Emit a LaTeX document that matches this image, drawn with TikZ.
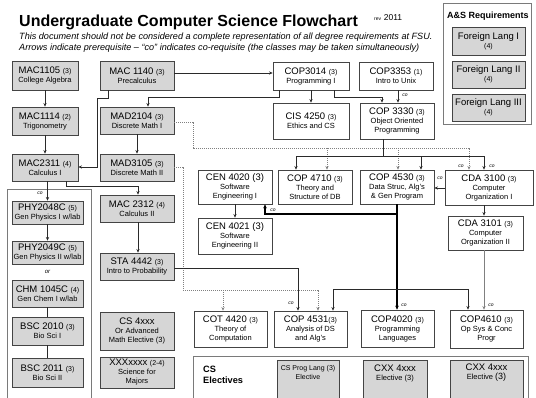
\documentclass[tikz,border=0pt]{standalone}
\usepackage{fontspec}
\setmainfont{Liberation Sans}
\usetikzlibrary{arrows.meta}
\definecolor{boxgray}{HTML}{D6D6D6}
\definecolor{boxline}{HTML}{444444}
\definecolor{grpline}{HTML}{7A7A7A}
\definecolor{linec}{HTML}{2A2A2A}
\definecolor{dotc}{HTML}{808080}
\newcommand\cn[2]{{\fontsize{9.5}{10}\selectfont #1 {\fontsize{7}{7}\selectfont #2}}}
\newcommand\cnb[1]{{\fontsize{9.5}{10}\selectfont #1}}
\begin{document}
\begin{tikzpicture}[x=1pt,y=-1pt,
  sz/.style n args={2}{minimum width=#1pt, minimum height=#2pt},
  basebox/.style={draw=boxline, line width=0.7pt, inner sep=0pt, align=center, font=\fontsize{7.5}{9}\selectfont},
  gbox/.style={basebox, fill=boxgray},
  wbox/.style={basebox, fill=white},
  grp/.style={draw=grpline, line width=0.7pt, fill=white, inner sep=0pt},
  txt/.style={inner sep=0pt, align=center, font=\fontsize{7.5}{9}\selectfont},
  arr/.style={draw=linec, line width=0.6pt, -{Stealth[length=3.6pt,width=3.2pt]}},
  ln/.style={draw=linec, line width=0.6pt},
  garr/.style={draw=dotc, line width=0.6pt, -{Stealth[length=3.6pt,width=3.2pt]}},
  dot/.style={draw=dotc, line width=0.6pt, dash pattern=on 1pt off 1pt, -{Stealth[length=3.6pt,width=3.2pt]}},
  thk/.style={draw=black, line width=1.3pt, -{Stealth[length=4pt,width=3.6pt]}},
  colab/.style={inner sep=0pt, font=\itshape\fontsize{5}{5}\selectfont}
]
\useasboundingbox (0,0) rectangle (536,397);

% title
\node[anchor=base west, inner sep=0pt, font=\bfseries\fontsize{16}{16}\selectfont] (title) at (19,26) {Undergraduate Computer Science Flowchart};
\node[anchor=base west, inner sep=0pt] (rev) at (374,20) {{\fontsize{5}{5}\selectfont rev} {\fontsize{8.5}{8.5}\selectfont 2011}};
\node[anchor=base west, inner sep=0pt, font=\itshape\fontsize{9.1}{11}\selectfont] (sub1) at (19,39) {This document should not be considered a complete representation of all degree requirements at FSU.};
\node[anchor=base west, inner sep=0pt, font=\itshape\fontsize{9.1}{11}\selectfont] (sub2) at (19,50) {Arrows indicate prerequisite – “co” indicates co-requisite (the classes may be taken simultaneously)};

% group frames
\node[grp, anchor=north west, sz={88}{121}] (asreq) at (443,3) {};
\node[txt, font=\bfseries\fontsize{9}{10}\selectfont] (astitle) at (488,16) {A\&S Requirements};
\node[grp, anchor=north west, sz={84}{215}] (sci) at (7,189) {};
\node[grp, anchor=north west, sz={335}{50}] (cselec) at (193,356) {};
\node[txt, anchor=north west, align=left, font=\bfseries\fontsize{9.2}{11}\selectfont] (cseltxt) at (203,366) {CS\\Electives};

% A&S boxes
\node[gbox, sz={73}{28}] (fl1) at (488.5,41) {\cnb{Foreign Lang I}\\{\fontsize{7}{8}\selectfont (4)}};
\node[gbox, sz={73}{27}] (fl2) at (488.5,74.5) {\cnb{Foreign Lang II}\\{\fontsize{7}{8}\selectfont (4)}};
\node[gbox, sz={73}{27}] (fl3) at (488.5,107.5) {\cnb{Foreign Lang III}\\{\fontsize{7}{8}\selectfont (4)}};

% math column
\node[gbox, sz={66}{29}] (mac1105) at (45,75.5) {\cn{MAC1105}{(3)}\\College Algebra};
\node[gbox, sz={66}{28}] (mac1114) at (45,121) {\cn{MAC1114}{(2)}\\Trigonometry};
\node[gbox, sz={66}{27}] (mac2311) at (45,167.5) {\cn{MAC2311}{(4)}\\Calculus I};
\node[gbox, sz={71}{23}] (phy2048) at (47.5,212.5) {\cn{PHY2048C}{(5)}\\Gen Physics I w/lab};
\node[gbox, sz={71}{23}] (phy2049) at (47.5,252.5) {\cn{PHY2049C}{(5)}\\Gen Physics II w/lab};
\node[txt, font=\itshape\fontsize{6}{6}\selectfont] (ortxt) at (47.5,272) {or};
\node[gbox, sz={71}{27}] (chm1045) at (47.5,293.5) {\cn{CHM 1045C}{(4)}\\Gen Chem I w/lab};
\node[gbox, sz={71}{28}] (bsc2010) at (47.5,331) {\cn{BSC 2010}{(3)}\\Bio Sci I};
\node[gbox, sz={71}{29}] (bsc2011) at (47.5,372.5) {\cn{BSC 2011}{(3)}\\Bio Sci II};

\node[gbox, sz={74}{29}] (mac1140) at (137,75.5) {\cn{MAC 1140}{(3)}\\Precalculus};
\node[gbox, sz={74}{27}] (mad2104) at (137,120.5) {\cn{MAD2104}{(3)}\\Discrete Math I};
\node[gbox, sz={74}{27}] (mad3105) at (137,167.5) {\cn{MAD3105}{(3)}\\Discrete Math II};
\node[gbox, sz={74}{27}] (mac2312) at (137,208.5) {\cn{MAC 2312}{(4)}\\Calculus II};
\node[gbox, sz={74}{27}] (sta4442) at (137,266.5) {\cn{STA 4442}{(3)}\\Intro to Probability};
\node[gbox, sz={74}{38}] (cs4xxx) at (137,331) {\cnb{CS 4xxx}\\Or Advanced\\Math Elective (3)};
\node[gbox, sz={74}{31}] (sciel) at (137,372.5) {\cn{XXXxxxx}{(2-4)}\\Science for\\Majors};

% CS courses
\node[wbox, sz={76}{28}] (cop3014) at (311,76) {\cn{COP3014}{(3)}\\Programming I};
\node[wbox, sz={74}{28}] (cop3353) at (396,76) {\cn{COP3353}{(1)}\\Intro to Unix};
\node[wbox, sz={76}{36}] (cis4250) at (311,121) {\cn{CIS 4250}{(3)}\\Ethics and CS};
\node[wbox, sz={74}{36}] (cop3330) at (397,121) {\cn{COP 3330}{(3)}\\Object Oriented\\Programming};
\node[wbox, sz={74}{34}] (cen4020) at (235,187) {\cnb{CEN 4020 (3)}\\Software\\Engineering I};
\node[wbox, sz={74}{34}] (cop4710) at (315,187) {\cn{COP 4710}{(3)}\\Theory and\\Structure of DB};
\node[wbox, sz={74}{34}] (cop4530) at (397,187) {\cn{COP 4530}{(3)}\\Data Struc, Alg's\\\& Gen Program};
\node[wbox, sz={88}{35}] (cda3100) at (489,187.5) {\cn{CDA 3100}{(3)}\\Computer\\Organization I};
\node[wbox, sz={75}{34}] (cda3101) at (485.5,233) {\cn{CDA 3101}{(3)}\\Computer\\Organization II};
\node[wbox, sz={74}{36}] (cen4021) at (235,236) {\cnb{CEN 4021 (3)}\\Software\\Engineering II};
\node[wbox, sz={73}{36}] (cot4420) at (230.5,329) {\cn{COT 4420}{(3)}\\Theory of\\Computation};
\node[wbox, sz={73}{36}] (cop4531) at (310.5,329) {\cn{COP 4531}{\kern-2.5pt(3)}\\Analysis of DS\\and Alg's};
\node[wbox, sz={73}{37}] (cop4020) at (397.5,328.5) {\cn{COP4020}{(3)}\\Programming\\Languages};
\node[wbox, sz={73}{38}] (cop4610) at (486.5,329) {\cn{COP4610}{(3)}\\Op Sys \& Conc\\Progr};

% electives
\node[gbox, anchor=north west, sz={62}{45}] (cspl) at (277,360) {};
\node[txt, font=\fontsize{7}{9}\selectfont] (cspltxt) at (308,372) {CS Prog Lang (3)\\Elective};
\node[gbox, anchor=north west, sz={64}{45}] (cxx1) at (363,360) {};
\node[txt] (cxx1txt) at (395,373) {\cnb{CXX 4xxx}\\Elective (3)};
\node[gbox, anchor=north west, sz={73}{45}] (cxx2) at (450,360) {};
\node[txt] (cxx2txt) at (486.5,373) {\cnb{CXX 4xxx}\\Elective {\fontsize{9}{9}\selectfont (3)}};

% ---- connectors ----
\coordinate (b1) at (108,98);
\coordinate (b2) at (97,98);
\coordinate (b3) at (97,167);
\coordinate (b4) at (0,73);
\coordinate (p1) at (279,97);
\coordinate (p2) at (148,97);
\coordinate (b5) at (334,97);
\coordinate (b6) at (382,97);
\coordinate (b7) at (398,0);
\draw[arr] (mac1105) -- (mac1114);
\draw[arr] (mac1114) -- (mac2311);
\draw[arr] (mac1140.south -| b1) -- (b1) -- (b2) -- (b3) -- (mac2311.east |- b3);
\draw[arr] (mac1140.east |- b4) -- (cop3014.west |- b4);
\draw[arr] (cop3014.south -| p1) -- (p1) -- (p2) -- (mad2104.north -| p2);
\draw[arr] (cop3014) -- (cis4250);
\draw[arr] (cop3014.south -| b5) -- (b5) -- (b6) -- (cop3330.north -| b6);
\draw[arr] (cop3353.south -| b7) -- (cop3330.north -| b7);
\node[colab] (co1) at (405,95) {co};
\draw[arr] (mad2104) -- (mad3105);

% MAD2104 dotted fan
\coordinate (d1) at (193,122);
\coordinate (d2) at (193,148);
\coordinate (d3) at (469,148);
\coordinate (d4) at (327,148);
\coordinate (d5) at (398,148);
\draw[dot] (mad2104.east |- d1) -- (d1) -- (d2) -- (d3) -- (cda3100.north -| d3);
\draw[dot] (d4) -- (cop4710.north -| d4);
\draw[dot] (d5) -- (cop4530.north -| d5);
\node[colab] (co2) at (461,166) {co};

% COP3330 fan
\coordinate (s1) at (383,156);
\coordinate (s2) at (296,156);
\coordinate (s3) at (484,156);
\coordinate (s4) at (421,156);
\draw[ln] (cop3330.south -| s1) -- (s1);
\draw[arr] (s1) -- (s2) -- (cop4710.north -| s2);
\draw[arr] (s1) -- (s3) -- (cda3100.north -| s3);
\draw[arr] (s4) -- (cop4530.north -| s4);
\node[colab] (co3) at (492,166) {co};

% CDA chain
\coordinate (c1) at (0,188);
\draw[arr] (cda3100.west |- c1) -- (cop4530.east |- c1);
\node[colab] (co4) at (440,178) {co};
\draw[arr] (cda3100.south -| s3) -- (cda3101.north -| s3);
\draw[garr] (cda3101.south -| s3) -- (cop4610.north -| s3);
\node[colab] (co5) at (491,305) {co};

% CEN
\draw[arr] (cen4020) -- (cen4021);

% COP4530 thick
\coordinate (t1) at (397,214);
\coordinate (t2) at (265,214);
\coordinate (t3) at (397,289);
\coordinate (t4) at (333,289);
\coordinate (t5) at (468,289);
\draw[thk] (cop4530.south -| t1) -- (t1) -- (t2) -- (cen4020.south -| t2);
\node[colab] (co6) at (273,210) {co};
\draw[thk] (cop4530.south -| t1) -- (cop4020.north -| t1);
\node[colab] (co7) at (404,305) {co};
\draw[arr] (t3) -- (t4) -- (cop4531.north -| t4);
\draw[arr] (t3) -- (t5) -- (cop4610.north -| t5);

% math side
\coordinate (m1) at (66,186);
\coordinate (m2) at (138,186);
\draw[arr] (mac2311.south -| m1) -- (m1) -- (m2) -- (mac2312.north -| m2);
\draw[arr] (mac2312.south -| m2) -- (sta4442.north -| m2);
\draw[arr] (phy2048.north |- mac2311.south) -- (phy2048.north);
\node[colab] (co8) at (40,193) {co};
\draw[arr] (phy2048) -- (phy2049);
\draw[ln] (chm1045) -- (bsc2010);
\draw[ln] (bsc2010) -- (bsc2011);

% MAD3105 dotted
\coordinate (g1) at (183,167);
\coordinate (g2) at (183,290);
\coordinate (g3) at (318,290);
\coordinate (g4) at (223,290);
\draw[dot] (mad3105.east |- g1) -- (g1) -- (g2) -- (g3) -- (cop4531.north -| g3);
\draw[dot] (g4) -- (cot4420.north -| g4);

% STA4442 -> COP4531
\coordinate (k1) at (298,268);
\draw[arr] (sta4442.east |- k1) -- (k1) -- (cop4531.north -| k1);
\node[colab] (co9) at (291,303) {co};
\end{tikzpicture}
\end{document}
